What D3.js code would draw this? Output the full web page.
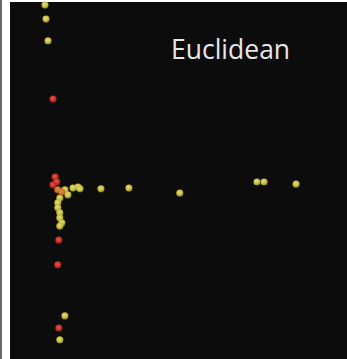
<!DOCTYPE html>
<html><head><meta charset="utf-8">
<script src="https://cdn.jsdelivr.net/npm/d3@7"></script>
<style>html,body{margin:0;padding:0;background:#fff;overflow:hidden}</style>
</head><body>
<script>
const title = "Euclidean";
const groups = ["yellow","red","orange"];
const xValues = [10.4,10.7,11.3,12.8,13.4,12.8,13.9,14.2,15.4,16.3,18.7,20.2,20.8,17.2,14.8,14.2,14.2,14.8,14.8,15.4,14.8,27.0,35.3,50.4,73.3,75.4,84.9,14.5,14.2,16.3,14.5,14.8];
const yValues = [98.6,94.7,88.6,72.4,50.7,48.5,49.3,47.1,46.5,47.1,47.6,47.9,47.4,45.7,44.8,43.5,42.1,40.7,39.3,37.9,37.0,47.4,47.6,46.2,49.3,49.3,48.7,33.1,26.2,12.0,8.6,5.3];
const pointGroup = ["yellow","yellow","yellow","red","red","red","red","orange","orange","yellow","yellow","yellow","yellow","yellow","yellow","yellow","yellow","yellow","yellow","yellow","yellow","yellow","yellow","yellow","yellow","yellow","yellow","red","red","yellow","red","yellow"];

const W = 347, H = 359;
const svg = d3.select("body").append("svg").attr("width", W).attr("height", H);
svg.append("rect").attr("width", W).attr("height", H).attr("fill", "#ffffff");
svg.append("rect").attr("x", 0).attr("width", 2).attr("height", H).attr("fill", "#6a6a6a");
const panel = {x: 10, y: 2, w: W - 10, h: H - 2};
svg.append("rect").attr("x", panel.x).attr("y", panel.y).attr("width", panel.w).attr("height", panel.h).attr("fill", "#0c0c0c");

const x = d3.scaleLinear().domain([0, 100]).range([10, 347]);
const y = d3.scaleLinear().domain([0, 100]).range([359, 0]);
const color = d3.scaleOrdinal().domain(groups).range([
  ["#e4e27c", "#bdb63a"],
  ["#e65a40", "#c02a22"],
  ["#e0963a", "#c86a28"]
]);

const defs = svg.append("defs");
groups.forEach(g => {
  const grad = defs.append("radialGradient").attr("id", "g-" + g).attr("cx", "45%").attr("cy", "40%").attr("r", "60%");
  grad.append("stop").attr("offset", "0%").attr("stop-color", color(g)[0]);
  grad.append("stop").attr("offset", "70%").attr("stop-color", color(g)[1]);
  grad.append("stop").attr("offset", "100%").attr("stop-color", color(g)[1]).attr("stop-opacity", 0.5);
});
defs.append("filter").attr("id", "blur").append("feGaussianBlur").attr("stdDeviation", 0.7);

const data = xValues.map((v, i) => ({x: v, y: yValues[i], g: pointGroup[i]}));
const order = {yellow: 0, orange: 1, red: 2};
svg.append("g").attr("filter", "url(#blur)")
  .selectAll("circle").data(data.slice().sort((a, b) => order[a.g] - order[b.g]))
  .join("circle")
  .attr("cx", d => x(d.x)).attr("cy", d => y(d.y)).attr("r", 3.6)
  .attr("fill", d => "url(#g-" + d.g + ")");

svg.append("text").attr("x", 171).attr("y", 59)
  .attr("font-family", "'Open Sans', sans-serif").attr("font-size", 26.5).attr("font-weight", 500)
  .attr("fill", "#e6e6e6").text(title);
</script>
</body></html>
